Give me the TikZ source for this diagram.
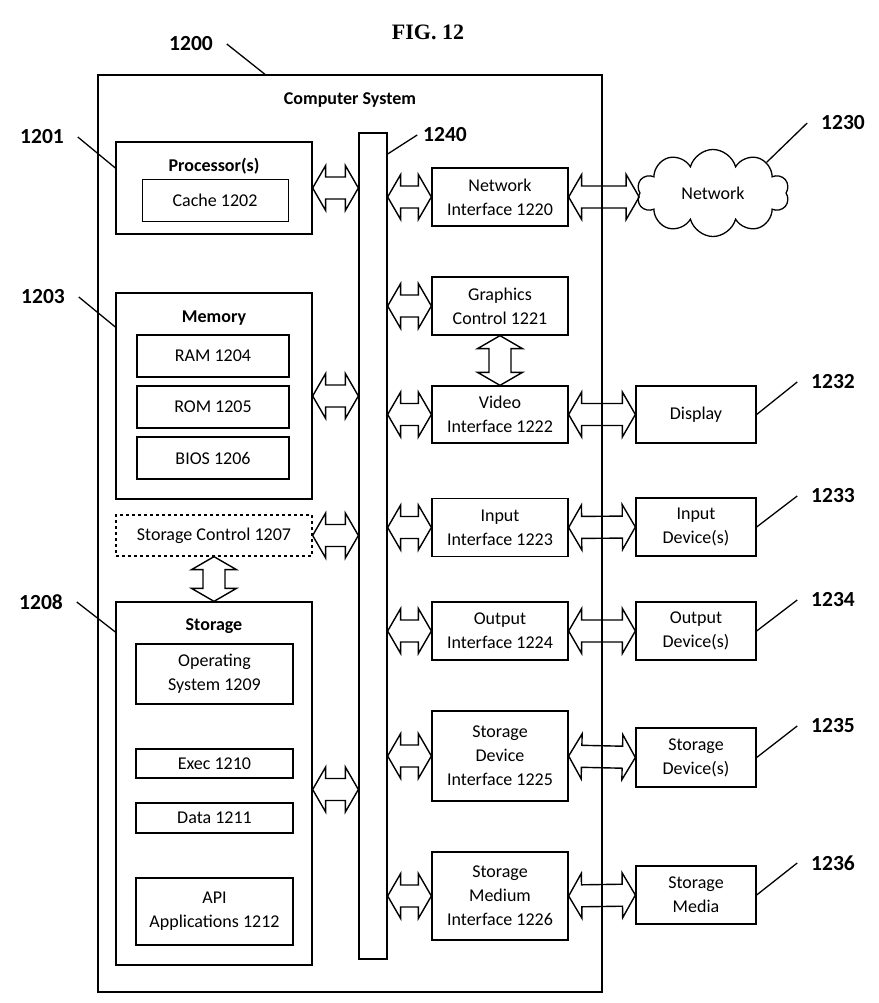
\documentclass[tikz,border=0pt]{standalone}
\usepackage{fontspec}
\setmainfont{Carlito}
\newfontfamily\figfont{Liberation Serif}
\usetikzlibrary{calc,shapes.symbols}
\newcommand\hollowarrow[2]{%
  \draw[fat] (#1) -- ($(#1)!13pt!(#2)!22.5pt!90:(#2)$) -- ($(#1)!13pt!(#2)!11pt!90:(#2)$)
    -- ($(#2)!13pt!(#1)!11pt!-90:(#1)$) -- ($(#2)!13pt!(#1)!22.5pt!-90:(#1)$) -- (#2)
    -- ($(#2)!13pt!(#1)!22.5pt!90:(#1)$) -- ($(#2)!13pt!(#1)!11pt!90:(#1)$)
    -- ($(#1)!13pt!(#2)!11pt!-90:(#2)$) -- ($(#1)!13pt!(#2)!22.5pt!-90:(#2)$) -- cycle;}
\begin{document}
\begin{tikzpicture}[x=1pt, y=-1pt, font=\fontsize{18}{24}\selectfont, line join=miter,
    box/.style={draw, line width=1.3pt, inner sep=0pt, align=center},
    fat/.style={draw, line width=1.4pt, line join=miter},
    lead/.style={line width=1.3pt},
    num/.style={font=\fontsize{21.5}{24}\bfseries\selectfont, inner sep=0pt, outer sep=14pt},
    head/.style={font=\fontsize{18}{24}\bfseries\selectfont, inner sep=0pt}]
    \useasboundingbox (0,0) rectangle (878,1003);
    \node (fig) at (428,32) {\figfont\fontsize{22}{24}\bfseries\selectfont FIG. 12};
    \node (sys) at (350,533.5) [box, minimum width=504pt, minimum height=917pt] {};
    \node (systitle) at (350,100) [head] {Computer System};
    % left column
    \node (proc) at (214,188) [box, minimum width=196pt, minimum height=92pt] {};
    \node (proctitle) at (214,166) [head] {Processor(s)};
    \node (cache) at (215,200.5) [box, line width=1pt, minimum width=146pt, minimum height=41pt] {Cache 1202};
    \node (mem) at (214,396) [box, minimum width=196pt, minimum height=206pt] {};
    \node (memtitle) at (214,318) [head] {Memory};
    \node (ram) at (213,356) [box, minimum width=152pt, minimum height=42pt] {RAM 1204};
    \node (rom) at (213,407) [box, minimum width=152pt, minimum height=42pt] {ROM 1205};
    \node (bios) at (213,458) [box, minimum width=152pt, minimum height=42pt] {BIOS 1206};
    \node (stctl) at (214,535.5) [box, dashed, minimum width=196pt, minimum height=41pt] {Storage Control 1207};
    \node (stor) at (214,783.5) [box, minimum width=196pt, minimum height=363pt] {};
    \node (stortitle) at (214,626) [head] {Storage};
    \node (os) at (214.5,674) [box, minimum width=157pt, minimum height=60pt] {Operating\\System 1209};
    \node (exec) at (214.5,763.5) [box, minimum width=157pt, minimum height=29pt] {Exec 1210};
    \node (data) at (214.5,818) [box, minimum width=157pt, minimum height=30pt] {Data 1211};
    \node (api) at (214.5,911.5) [box, minimum width=157pt, minimum height=67pt] {API\\Applications 1212};
    \node (bus) at (373,546) [box, minimum width=28pt, minimum height=826pt] {};
    % interfaces
    \node (nif) at (500,197) [box, minimum width=136pt, minimum height=58pt] {Network\\Interface 1220};
    \node (gfx) at (500,306) [box, minimum width=136pt, minimum height=58pt] {Graphics\\Control 1221};
    \node (vid) at (500,414.5) [box, minimum width=136pt, minimum height=57pt] {Video\\Interface 1222};
    \node (inif) at (500,527.5) [box, minimum width=136pt, minimum height=58pt] {Input\\Interface 1223};
    \node (outif) at (500,631) [box, minimum width=136pt, minimum height=58pt] {Output\\Interface 1224};
    \node (sdif) at (500,756) [box, minimum width=136pt, minimum height=90pt] {Storage\\Device\\Interface 1225};
    \node (smif) at (500,896) [box, minimum width=136pt, minimum height=88pt] {Storage\\Medium\\Interface 1226};
    % outside devices
    \node (net) at (713,193) [cloud, draw, line width=1.3pt, cloud puffs=10, aspect=1.75, inner sep=0pt,
        minimum width=152pt, minimum height=87pt] {Network};
    \node (disp) at (696,414.5) [box, minimum width=120pt, minimum height=57pt] {Display};
    \node (indev) at (696,527) [box, minimum width=120pt, minimum height=58pt] {Input\\Device(s)};
    \node (outdev) at (696,631) [box, minimum width=120pt, minimum height=58pt] {Output\\Device(s)};
    \node (stdev) at (696,757.5) [box, minimum width=120pt, minimum height=59pt] {Storage\\Device(s)};
    \node (stmed) at (696,895) [box, minimum width=120pt, minimum height=58pt] {Storage\\Media};
    % reference numerals
    \node (n1200) at (191,44) [num] {1200};
    \node (n1201) at (42,137) [num] {1201};
    \node (n1203) at (43,297) [num] {1203};
    \node (n1208) at (41,602) [num] {1208};
    \node (n1240) at (445,135) [num] {1240};
    \node (n1230) at (843,123) [num] {1230};
    \node (n1232) at (833,382) [num] {1232};
    \node (n1233) at (833,496) [num] {1233};
    \node (n1234) at (833,600) [num] {1234};
    \node (n1235) at (833,726) [num] {1235};
    \node (n1236) at (833,863) [num] {1236};
    \draw[lead] (n1200.east) -- (sys.north west -| 265,0);
    \draw[lead] (n1201.east) -- (proc.west |- 0,168);
    \draw[lead] (n1203.east) -- (mem.west |- 0,327);
    \draw[lead] (n1208.east) -- (stor.west |- 0,632);
    \draw[lead] ([xshift=8pt]n1240.west) -- (bus.east |- 0,154);
    \draw[lead] (n1230.west) -- (net.north east);
    \foreach \dev/\num in {disp/1232, indev/1233, outdev/1234, stdev/1235, stmed/1236}
        \draw[lead] (n\num.west) -- (\dev.east);
    % bus connections
    \coordinate (storpt) at ([yshift=-6pt]stor.east);
    \hollowarrow{proc.east}{proc.east -| bus.west}
    \hollowarrow{mem.east}{mem.east -| bus.west}
    \hollowarrow{stctl.east}{stctl.east -| bus.west}
    \hollowarrow{storpt}{storpt -| bus.west}
    \hollowarrow{stctl.south}{stor.north}
    \foreach \ifc in {nif, gfx, vid, inif, outif, sdif, smif}
        {\hollowarrow{\ifc.west -| bus.east}{\ifc.west}}
    \hollowarrow{gfx.south}{vid.north}
    \hollowarrow{nif.east}{nif.east -| net.west}
    \hollowarrow{vid.east}{disp.west}
    \hollowarrow{inif.east}{indev.west}
    \hollowarrow{outif.east}{outdev.west}
    \hollowarrow{sdif.east}{stdev.west}
    \hollowarrow{smif.east}{stmed.west}
\end{tikzpicture}
\end{document}
